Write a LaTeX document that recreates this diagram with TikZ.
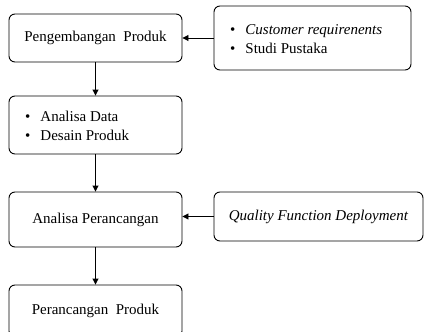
\documentclass[tikz,border=0pt]{standalone}
\usepackage{fontspec}
\setmainfont{Liberation Serif}
\usetikzlibrary{arrows.meta}

\tikzset{
	kotak/.style={draw, line width=0.9pt, rounded corners=6pt, minimum width=173pt},
	panah/.style={-{Triangle[length=6pt, width=6pt]}, line width=0.9pt}
}

\begin{document}
\begin{tikzpicture}[x=1pt, y=-1pt]
	\fontsize{15}{19.5}\selectfont
	\useasboundingbox (0,0) rectangle (424,332);
	\clip (0,0) rectangle (424,332);

	% kolom kiri
	\node [kotak, minimum height=48pt] (pengembangan) at (95.5, 38) {Pengembangan\ \ Produk};
	\node [kotak, minimum height=58pt] (analisadata) at (95.5, 125) {};
	\node [anchor=west, align=left] (isidata) at (20, 126) {\textbullet\hspace{10pt}Analisa Data\\ \textbullet\hspace{10pt}Desain Produk};
	\node [kotak, minimum height=55pt] (analisaperancangan) at (95.5, 219.5) {Analisa Perancangan};
	\node [kotak, minimum height=52pt] (perancangan) at (95.5, 311) {Perancangan\ \ Produk};

	% kolom kanan
	\node [kotak, minimum width=197pt, minimum height=64pt] (masukan) at (312.5, 38) {};
	\node [anchor=west, align=left] (isimasukan) at (225, 39) {\textbullet\hspace{10pt}\textit{Customer requirenents}\\ \textbullet\hspace{10pt}Studi Pustaka};
	\node [kotak, minimum width=209pt, minimum height=49pt] (qfd) at (318.5, 216.5) {\textit{Quality Function Deployment}};

	% panah
	\draw [panah] (masukan.west) -- (pengembangan.east);
	\draw [panah] (pengembangan) -- (analisadata);
	\draw [panah] (analisadata) -- (analisaperancangan);
	\draw [panah] (qfd.west) -- (analisaperancangan.east |- qfd.west);
	\draw [panah] (analisaperancangan) -- (perancangan);
\end{tikzpicture}
\end{document}
